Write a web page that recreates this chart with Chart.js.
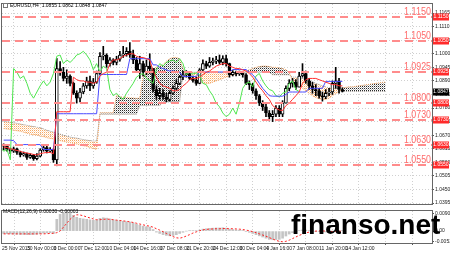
<!DOCTYPE html>
<html><head><meta charset="utf-8">
<script src="https://cdn.jsdelivr.net/npm/chart.js@4.4.1/dist/chart.umd.min.js"></script>
<style>
html,body{margin:0;padding:0;background:#fff;width:450px;height:254px;overflow:hidden;}
#c1{position:absolute;left:0;top:0;}
#c2{position:absolute;left:0;top:207px;}
#wm{position:absolute;left:291px;top:211px;font:bold 28px "Liberation Sans",Arial,sans-serif;line-height:28px;color:#000;white-space:nowrap;}
</style></head><body>
<canvas id="c1" width="450" height="208"></canvas>
<canvas id="c2" width="450" height="47"></canvas>
<div id="wm">finanso.net</div>
<script>
// ---------- DATA (EURUSD H4, one entry per candle slot) ----------
const firstOpen = 1.0630;
const closes = [1.0625,1.0612,1.0605,1.0615,1.0600,1.0590,1.0595,1.0580,1.0588,1.0575,1.0585,1.0610,1.0620,1.0605,1.0612,1.0570,
1.0940,1.0925,1.0900,1.0910,1.0880,1.0840,1.0820,1.0845,1.0870,1.0890,1.0870,1.0885,1.0920,1.0990,1.0995,1.0960,1.0975,1.0965,1.0978,1.0995,1.1000,1.1010,1.0995,1.0975,1.0935,1.0960,1.0925,1.0950,1.0940,
1.0855,1.0830,1.0840,1.0825,1.0815,1.0840,1.0860,1.0880,1.0905,1.0915,1.0920,1.0900,1.0892,1.0880,1.0935,1.0960,1.0950,1.0965,1.0970,1.0975,1.0965,1.0980,1.0960,
1.0915,1.0925,1.0918,1.0922,1.0915,1.0880,1.0875,1.0850,1.0830,1.0800,1.0785,1.0760,1.0745,1.0755,1.0780,1.0755,1.0800,
1.0860,1.0880,1.0885,1.0865,1.0910,1.0920,1.0890,1.0870,1.0855,1.0850,1.0830,1.0825,1.0840,1.0845,1.0880,1.0890,1.0855,1.0847];
const highs = [1.0635,1.0628,1.0618,1.0622,1.0618,1.0605,1.0602,1.0598,1.0595,1.0592,1.0595,1.0615,1.0632,1.0625,1.0620,1.0615,
1.0981,1.0968,1.0945,1.0935,1.0915,1.0885,1.0850,1.0860,1.0880,1.0905,1.0910,1.0900,1.0930,1.1005,1.1030,1.1000,1.0985,1.0980,1.0990,1.1010,1.1030,1.1025,1.1045,1.1015,1.0985,1.0990,1.0970,1.0975,1.1000,
1.0940,1.0870,1.0860,1.0855,1.0840,1.0850,1.0870,1.0895,1.0912,1.0930,1.0932,1.0925,1.0910,1.0905,1.0940,1.0975,1.0970,1.0985,1.0982,1.0990,1.0995,1.0992,1.0995,
1.0962,1.0932,1.0930,1.0930,1.0928,1.0920,1.0890,1.0880,1.0858,1.0835,1.0810,1.0795,1.0770,1.0770,1.0790,1.0790,1.0810,
1.0870,1.0895,1.0900,1.0895,1.0925,1.0960,1.0930,1.0900,1.0885,1.0875,1.0860,1.0845,1.0855,1.0860,1.0890,1.0945,1.0900,1.0862];
const lows = [1.0610,1.0605,1.0595,1.0600,1.0592,1.0582,1.0585,1.0572,1.0576,1.0568,1.0570,1.0582,1.0605,1.0598,1.0600,1.0560,
1.0546,1.0912,1.0890,1.0880,1.0870,1.0835,1.0800,1.0805,1.0838,1.0860,1.0850,1.0860,1.0880,1.0915,1.0975,1.0945,1.0950,1.0955,1.0955,1.0970,1.0985,1.0990,1.0985,1.0960,1.0925,1.0900,1.0910,1.0915,1.0920,
1.0845,1.0815,1.0815,1.0815,1.0805,1.0808,1.0835,1.0855,1.0875,1.0895,1.0905,1.0895,1.0885,1.0872,1.0878,1.0930,1.0940,1.0945,1.0955,1.0960,1.0958,1.0955,1.0950,
1.0905,1.0910,1.0910,1.0912,1.0905,1.0875,1.0855,1.0840,1.0815,1.0790,1.0770,1.0745,1.0728,1.0725,1.0745,1.0745,1.0745,
1.0800,1.0850,1.0865,1.0855,1.0865,1.0905,1.0880,1.0855,1.0840,1.0830,1.0820,1.0808,1.0818,1.0830,1.0835,1.0860,1.0840,1.0845];
const tenkan = [1.0622,1.0620,1.0615,1.0612,1.0608,1.0605,1.0600,1.0598,1.0595,1.0592,1.0590,1.0595,1.0598,1.0600,1.0600,1.0595,
1.0765,1.0765,1.0765,1.0765,1.0765,
1.0905,1.0895,1.0890,1.0890,1.0885,1.0885,1.0880,1.0885,1.0910,1.0920,1.0925,1.0960,1.0975,1.0975,1.0980,1.0990,1.0995,1.1000,1.1000,1.0990,1.0985,1.0985,1.0980,1.0975,
1.0930,1.0905,1.0880,1.0870,1.0865,1.0860,1.0850,1.0850,1.0855,1.0870,1.0880,1.0895,1.0900,1.0900,1.0905,1.0915,1.0925,1.0930,1.0940,1.0950,1.0955,1.0960,1.0960,
1.0950,1.0945,1.0940,1.0940,1.0935,1.0930,1.0920,1.0905,1.0885,1.0865,1.0850,1.0830,1.0815,1.0790,1.0780,1.0772,1.0770,
1.0790,1.0800,1.0815,1.0830,1.0845,1.0880,1.0895,1.0900,1.0900,1.0900,1.0895,1.0890,1.0885,1.0880,1.0875,1.0875,1.0870,1.0870];
const kijun = [1.0650,1.0650,1.0650,1.0648,1.0632,1.0632,1.0632,1.0632,1.0632,1.0632,1.0632,1.0632,1.0612,1.0612,1.0612,1.0612,
1.0757,1.0757,1.0757,1.0757,1.0757,1.0757,1.0757,1.0757,1.0757,1.0757,1.0757,1.0757,1.0757,
1.0916,1.0916,1.0916,1.0916,1.0916,1.0916,1.0916,1.0916,1.0916,
1.0980,1.0980,1.0980,1.0980,1.0980,1.0980,1.0980,
1.0955,1.0955,1.0945,1.0940,1.0935,1.0930,1.0930,1.0928,1.0925,
1.0908,1.0908,1.0908,1.0908,1.0908,
1.0926,1.0926,1.0926,1.0926,1.0926,1.0926,1.0926,1.0926,1.0926,1.0926,
1.0936,1.0936,1.0936,1.0936,1.0936,
1.0925,1.0915,1.0900,1.0880,1.0860,1.0845,1.0830,
1.0828,1.0828,1.0828,1.0828,1.0835,
1.0845,1.0845,1.0845,1.0845,1.0845,1.0845,
1.0860,1.0860,1.0860,1.0860,1.0860,
1.0888,1.0888,1.0888,1.0888,1.0888,1.0888];
// Senkou spans (already displaced forward, extend 13 slots past last candle)
const spanA = [1.0697,1.0695,1.0693,1.0690,1.0688,1.0686,1.0682,1.0678,1.0674,1.0672,1.0670,1.0667,1.0664,1.0660,1.0657,1.0655,1.0652,1.0648,1.0645,1.0642,1.0640,1.0637,1.0634,1.0630,1.0627,1.0625,1.0620,1.0616,1.0612,
1.0761,1.0761,1.0761,1.0761,1.0761,
1.0831,1.0826,1.0824,1.0824,1.0821,1.0821,1.0819,1.0821,
1.0913,1.0918,1.0921,1.0938,1.0946,1.0950,1.0955,1.0970,1.0980,1.0985,1.0985,1.0980,1.0940,1.0920,1.0905,1.0895,1.0890,1.0885,1.0882,1.0880,
1.0880,1.0885,1.0890,1.0895,1.0900,1.0905,1.0910,1.0915,1.0918,1.0920,1.0922,1.0930,1.0935,1.0940,1.0945,1.0948,1.0950,1.0950,1.0948,1.0945,
1.0945,1.0942,1.0940,1.0935,1.0925,1.0890,1.0880,1.0870,1.0860,1.0850,1.0840,1.0830,1.0822,1.0818,1.0815,1.0815,1.0820,1.0830,1.0840,1.0845,
1.0862,1.0864,1.0866,1.0866,1.0868,1.0870,1.0872,1.0874,1.0876,1.0878,1.0880,1.0882,1.0884,1.0885];
const spanB = [1.0725,1.0724,1.0722,1.0720,1.0718,1.0715,1.0712,1.0710,1.0707,1.0705,1.0702,1.0700,1.0695,1.0690,1.0686,1.0682,1.0678,1.0674,1.0670,1.0666,1.0662,1.0660,1.0658,1.0655,1.0652,1.0650,1.0648,1.0646,1.0646,
1.0755,1.0755,1.0755,1.0755,1.0755,1.0755,1.0755,1.0755,1.0755,1.0755,1.0755,1.0755,
1.0790,1.0790,1.0790,1.0790,1.0790,1.0790,1.0790,1.0805,1.0805,1.0805,1.0805,1.0805,1.0805,
1.0920,1.0925,1.0925,1.0925,1.0925,1.0925,1.0925,1.0925,1.0925,1.0925,1.0925,1.0925,1.0925,1.0925,1.0925,1.0925,1.0925,1.0925,1.0925,1.0925,
1.0925,1.0925,1.0925,1.0925,1.0925,1.0925,1.0925,1.0915,1.0915,1.0915,1.0915,1.0915,1.0915,
1.0905,1.0905,1.0900,1.0900,1.0895,1.0890,1.0885,1.0880,1.0875,1.0870,1.0865,1.0862,1.0860,1.0860,1.0858,
1.0848,1.0848,1.0848,1.0848,1.0848,1.0848,1.0848,1.0848,1.0848,1.0848,1.0848,1.0848,1.0848,1.0848];
const chikouShift = 13;
// MACD(12,26,9)
const macdMain = [-0.0012,-0.0013,-0.0014,-0.0015,-0.0016,-0.0017,-0.0017,-0.0018,-0.0018,-0.0017,-0.0016,-0.0013,-0.0010,-0.0009,-0.0008,-0.0012,
0.0060,0.0085,0.0092,0.0093,0.0090,0.0080,0.0070,0.0065,0.0062,0.0060,0.0057,0.0055,0.0056,0.0065,0.0068,0.0066,0.0062,0.0058,0.0055,0.0052,0.0050,0.0048,0.0046,0.0042,0.0035,0.0030,0.0025,0.0022,0.0020,
0.0008,-0.0005,-0.0012,-0.0018,-0.0022,-0.0024,-0.0022,-0.0018,-0.0012,-0.0006,0.0000,0.0002,0.0002,0.0001,0.0005,0.0010,0.0012,0.0014,0.0015,0.0016,0.0016,0.0017,0.0015,
0.0010,0.0008,0.0006,0.0005,0.0003,-0.0002,-0.0006,-0.0012,-0.0018,-0.0024,-0.0030,-0.0036,-0.0042,-0.0044,-0.0043,-0.0042,-0.0036,
-0.0025,-0.0015,-0.0008,-0.0004,0.0002,0.0006,0.0005,0.0003,0.0001,-0.0001,-0.0003,-0.0005,-0.0005,-0.0004,0.0000,0.0003,0.0002,0.0003];
const macdSignal = [-0.0014,-0.0014,-0.0014,-0.0014,-0.0014,-0.0014,-0.0014,-0.0014,-0.0014,-0.0014,-0.0014,-0.0014,-0.0014,-0.0013,-0.0012,-0.0011,
-0.0008,0.0000,0.0020,0.0040,0.0060,0.0075,0.0083,0.0082,0.0078,0.0072,0.0067,0.0062,0.0058,0.0058,0.0060,0.0061,0.0060,0.0058,0.0056,0.0054,0.0052,0.0050,0.0047,0.0044,0.0040,0.0036,0.0032,0.0028,0.0025,
0.0020,0.0012,0.0005,-0.0003,-0.0012,-0.0020,-0.0028,-0.0034,-0.0036,-0.0032,-0.0025,-0.0018,-0.0010,-0.0004,0.0002,0.0006,0.0009,0.0010,0.0011,0.0012,0.0012,0.0013,0.0013,
0.0012,0.0012,0.0011,0.0010,0.0008,0.0005,0.0002,-0.0003,-0.0008,-0.0014,-0.0020,-0.0026,-0.0033,-0.0040,-0.0047,-0.0052,-0.0054,
-0.0052,-0.0046,-0.0038,-0.0030,-0.0022,-0.0015,-0.0009,-0.0005,-0.0002,0.0000,0.0001,0.0001,0.0000,-0.0001,-0.0002,-0.0002,-0.0001,-0.0000];
// axis ticks / labels
const gridPos = [7,15,23,31,39,47,55,63,71,79,87,95,103,111,119,127];
const xLabelPos = [-0.5,7,15,23,31,39,47,55,63,71,79,87,95,103];
const xLabels = ['25 Nov 2015','30 Nov 00:00','3 Dec 00:00','7 Dec 12:00','10 Dec 04:00','14 Dec 16:00','17 Dec 08:00','21 Dec 20:00','24 Dec 12:00','30 Dec 04:00','4 Jan 16:00','7 Jan 08:00','11 Jan 20:00','14 Jan 12:00'];
const yTickVals = [1.1165,1.1110,1.1055,1.1000,1.0945,1.0890,1.0835,1.0780,1.0725,1.0670,1.0615,1.0560,1.0505,1.0450,1.0395];
const levels = [1.1150,1.1050,1.0925,1.0800,1.0730,1.0630,1.0550];
const lastPrice = 1.0847;
const macdTicks = [0.00907,0,-0.00531];
const mainTitle = 'EURUSD,H4  1.0855 1.0862 1.0848 1.0847';
const macdTitle = 'MACD(12,26,9) 0.00030 -0.00003';

// ---------- BUILD ----------
const FONT = '"Liberation Sans", Arial, sans-serif';
Chart.defaults.font.family = FONT;
const opens = [firstOpen].concat(closes.slice(0, -1));
function pat(cells){
  const c = document.createElement('canvas'); c.width = 2; c.height = 2;
  const x = c.getContext('2d');
  cells.forEach(([a,b,col]) => { x.fillStyle = col; x.fillRect(a,b,1,1); });
  return x.createPattern(c, 'repeat');
}
const grayPat = pat([[0,0,'#2a2a2a'],[1,1,'#b8b8b8']]);
const orangePat = pat([[0,0,'#f6a862'],[1,1,'#fde0c4']]);
const XMIN = -0.5, XMAX = 129;

const mainDeco = {
  id: 'mainDeco',
  afterDraw(chart){
    const {ctx, chartArea: ca, scales: {y}} = chart;
    ctx.save();
    ctx.strokeStyle = '#666'; ctx.lineWidth = 1; ctx.setLineDash([]);
    ctx.strokeRect(ca.left - 0.5, ca.top - 0.5, ca.right - ca.left + 1, ca.bottom - ca.top + 1);
    levels.forEach(v => {
      const py = Math.round(y.getPixelForValue(v));
      ctx.strokeStyle = '#ff8c8c'; ctx.lineWidth = 2; ctx.setLineDash([8,5]);
      ctx.beginPath(); ctx.moveTo(ca.left, py); ctx.lineTo(ca.right, py); ctx.stroke();
      ctx.setLineDash([]);
      ctx.font = '10.5px ' + FONT; ctx.fillStyle = '#ff6b6b';
      ctx.textAlign = 'right'; ctx.textBaseline = 'alphabetic';
      ctx.fillText(v.toFixed(4), 431, py - 2, 27);
      ctx.fillStyle = '#ff2a2a'; ctx.fillRect(433, py - 3.5, 16, 7);
      ctx.fillStyle = '#fff'; ctx.font = '5px ' + FONT; ctx.textAlign = 'center'; ctx.textBaseline = 'middle';
      ctx.fillText(v.toFixed(4), 441, py);
    });
    const lp = Math.round(y.getPixelForValue(lastPrice));
    ctx.fillStyle = '#000'; ctx.fillRect(433, lp - 3.5, 16, 7);
    ctx.fillStyle = '#fff'; ctx.font = '5px ' + FONT; ctx.textAlign = 'center'; ctx.textBaseline = 'middle';
    ctx.fillText(lastPrice.toFixed(4), 441, lp);
    ctx.strokeStyle = '#777'; ctx.lineWidth = 1; ctx.strokeRect(3.5, 3.5, 4, 4);
    ctx.fillStyle = '#000'; ctx.font = '5px ' + FONT; ctx.textAlign = 'left'; ctx.textBaseline = 'middle';
    ctx.fillText(mainTitle, 10, 6);
    ctx.restore();
  }
};
const macdDeco = {
  id: 'macdDeco',
  afterDraw(chart){
    const {ctx, chartArea: ca} = chart;
    ctx.save();
    ctx.strokeStyle = '#666'; ctx.lineWidth = 1;
    ctx.strokeRect(ca.left - 0.5, ca.top - 0.5, ca.right - ca.left + 1, ca.bottom - ca.top + 1);
    ctx.fillStyle = '#000'; ctx.font = '5px ' + FONT; ctx.textAlign = 'left'; ctx.textBaseline = 'middle';
    ctx.fillText(macdTitle, 3, 5);
    ctx.restore();
  }
};

new Chart(document.getElementById('c1'), {
  type: 'bar',
  data: { datasets: [
    { type:'line', data: spanA.map((v,i)=>({x:i,y:v})), borderColor:'#f4a460', borderWidth:1, borderDash:[1,1], pointRadius:0,
      fill:{target:1, above:grayPat, below:orangePat}, order:10 },
    { type:'line', data: spanB.map((v,i)=>({x:i,y:v})), borderColor:'#8a8a8a', borderWidth:1, borderDash:[1,1], pointRadius:0, fill:false, order:11 },
    { type:'bar', data: highs.map((h,i)=>({x:i,y:[lows[i],h]})), backgroundColor:'#000', barThickness:1, grouped:false, order:6 },
    { type:'bar', data: closes.map((c,i)=>({x:i,y:[opens[i],c]})),
      backgroundColor: closes.map((c,i)=> c >= opens[i] ? '#ffffff' : '#000000'),
      borderColor:'#000', borderWidth:1, borderSkipped:false, barThickness:3, grouped:false, order:5 },
    { type:'line', data: closes.map((c,i)=>({x:i-chikouShift,y:c})), borderColor:'#4ee64e', borderWidth:1, pointRadius:0, fill:false, order:3 },
    { type:'line', data: kijun.map((v,i)=>({x:i,y:v})), borderColor:'#4a4aff', borderWidth:1, pointRadius:0, fill:false, order:2 },
    { type:'line', data: tenkan.map((v,i)=>({x:i,y:v})), borderColor:'#ff3030', borderWidth:1, pointRadius:0, fill:false, order:1 }
  ]},
  options: {
    responsive:false, animation:false, devicePixelRatio:1,
    layout:{padding:{left:2, top:3, right:0, bottom:1}},
    plugins:{legend:{display:false}, tooltip:{enabled:false}},
    scales:{
      x:{type:'linear', min:XMIN, max:XMAX, offset:false,
        afterBuildTicks: s => { s.ticks = gridPos.map(v=>({value:v})); },
        afterFit: s => { s.height = 0; },
        ticks:{display:false}, grid:{color:'#d0d0d0', drawTicks:false}, border:{display:false, dash:[1,2]}},
      y:{type:'linear', position:'right', min:1.039115, max:1.120165,
        afterBuildTicks: s => { s.ticks = yTickVals.map(v=>({value:v})); },
        afterFit: s => { s.width = 18; },
        ticks:{font:{size:5}, color:'#222', padding:1, callback: v => Number(v).toFixed(4)},
        grid:{color:'#d0d0d0', tickLength:2, tickColor:'#555'}, border:{display:false, dash:[1,2]}}
    }
  },
  plugins:[mainDeco]
});

new Chart(document.getElementById('c2'), {
  type: 'bar',
  data: { datasets: [
    { type:'line', data: macdSignal.map((v,i)=>({x:i,y:v})), borderColor:'#ff2020', borderWidth:1, borderDash:[2,2], pointRadius:0, fill:false, order:1 },
    { type:'bar', data: macdMain.map((v,i)=>({x:i,y:v})), backgroundColor:'#c4c4c4', barThickness:2, grouped:false, order:2 }
  ]},
  options: {
    responsive:false, animation:false, devicePixelRatio:1,
    layout:{padding:{left:2, top:1, right:0, bottom:0}},
    plugins:{legend:{display:false}, tooltip:{enabled:false}},
    scales:{
      x:{type:'linear', min:XMIN, max:XMAX, offset:false,
        afterBuildTicks: s => { s.ticks = [-0.5].concat(gridPos).map(v=>({value:v})); },
        afterFit: s => { s.height = 11; },
        ticks:{font:{size:5}, color:'#222', align:'start', padding:1, maxRotation:0, autoSkip:false,
          callback: v => { const k = xLabelPos.indexOf(v); return k >= 0 ? xLabels[k] : ''; }},
        grid:{color:'#d0d0d0', tickLength:2, tickColor:'#555'}, border:{display:false, dash:[1,2]}},
      y:{type:'linear', position:'right', min:-0.00605, max:0.01023,
        afterBuildTicks: s => { s.ticks = macdTicks.map(v=>({value:v})); },
        afterFit: s => { s.width = 18; },
        ticks:{font:{size:5}, color:'#222', padding:1, callback: v => v === 0 ? '0.00' : Number(v).toFixed(5)},
        grid:{drawOnChartArea:false, tickLength:2, color:'#555'}, border:{display:false}}
    }
  },
  plugins:[macdDeco]
});
</script></body></html>
